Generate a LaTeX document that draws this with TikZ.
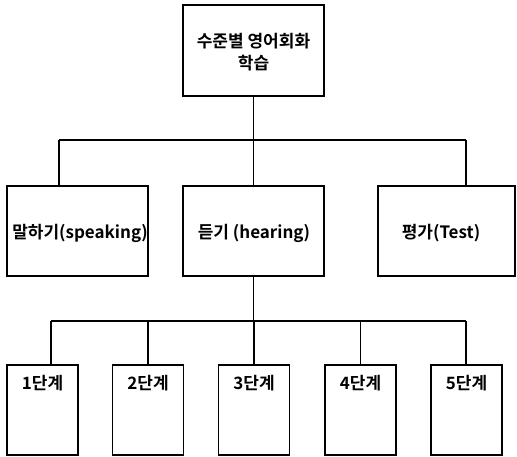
\documentclass[tikz,border=0pt]{standalone}
\usepackage{fontspec}
\newfontfamily\kr{Noto Sans CJK KR}[BoldFont={Noto Sans CJK KR Bold}]
\tikzset{
  box/.style={draw, line width=1.3pt, minimum width=#1, inner sep=0pt, outer sep=0pt},
  box/.default=141pt,
  conn/.style={line width=1.2pt},
  txt/.style={font=\kr\bfseries\fontsize{17}{22}\selectfont, align=center, inner sep=0pt}
}
\begin{document}
\begin{tikzpicture}[x=1pt,y=-1pt]
\useasboundingbox (0,0) rectangle (517,457);
% top
\node[box, minimum height=91pt] (top) at (253.5,50.5) {};
\node[txt] (toptxt) at (253.5,52) {수준별 영어회화\\학습};
% middle row
\node[box, minimum height=90pt] (m1) at (77.5,231) {};
\node[box, minimum height=90pt] (m2) at (253.5,231) {};
\node[box=137pt, minimum height=90pt] (m3) at (446.5,231) {};
\node[txt] (m1t) at (80,233) {말하기(speaking)};
\node[txt] (m2t) at (254,233) {듣기 (hearing)};
\node[txt] (m3t) at (441,233) {평가(Test)};
% bottom row
\foreach \i/\x in {1/42.5,2/148,3/254,4/360.5,5/466.5}{
  \node[box=71pt, minimum height=90pt] (s\i) at (\x,410) {};
  \node[txt] (s\i t) at (\x,383) {{\i}단계};
}
% connectors level 1
\coordinate (j1l) at (59,140);
\coordinate (j1r) at (466,140);
\draw[conn] (top.south) -- (top.south |- j1l);
\draw[conn] (j1l) -- (j1r);
\draw[conn] (j1l) -- (j1l |- m1.north);
\draw[conn] (m2.north |- j1l) -- (m2.north);
\draw[conn] (j1r) -- (j1r |- m3.north);
% connectors level 2
\coordinate (j2l) at (51,321);
\coordinate (j2r) at (466,321);
\draw[conn] (m2.south) -- (m2.south |- j2l);
\draw[conn] (j2l) -- (j2r);
\draw[conn] (j2l) -- (j2l |- s1.north);
\draw[conn] (s2.north |- j2l) -- (s2.north);
\draw[conn] (s3.north |- j2l) -- (s3.north);
\draw[conn] (s4.north |- j2l) -- (s4.north);
\draw[conn] (j2r) -- (j2r |- s5.north);
\end{tikzpicture}
\end{document}
